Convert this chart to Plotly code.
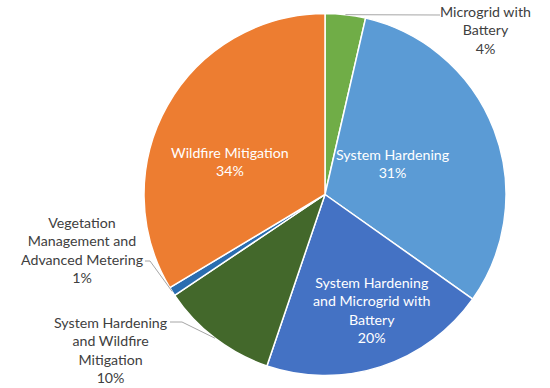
import math
import plotly.graph_objects as go

W, H = 550, 388

labels = ["Microgrid with Battery", "System Hardening",
          "System Hardening and Microgrid with Battery",
          "System Hardening and Wildfire Mitigation",
          "Vegetation Management and Advanced Metering",
          "Wildfire Mitigation"]
values = [3.6, 31.2, 20.4, 10.4, 0.8, 33.6]
colors = ["#70ad47", "#5b9bd5", "#4472c4", "#43682b", "#2a6db0", "#ed7d31"]
label_text = ["Microgrid with<br>Battery", "System Hardening",
              "System Hardening<br>and Microgrid with<br>Battery",
              "System Hardening<br>and Wildfire<br>Mitigation",
              "Vegetation<br>Management and<br>Advanced Metering",
              "Wildfire Mitigation"]
# label anchor positions (pixels) and whether inside
label_pos = [(485, 30), (393, 163), (371, 310), (111, 350), (82, 250), (230, 161)]
inside = [False, True, True, False, False, True]
# leader line elbows (pixels) for outside labels
elbow = {0: [(440, 15)], 3: [(170, 322), (182, 322)], 4: [(145, 261), (150, 261)]}

cx, cy, R = 325, 194.5, 181
def px(x, y):
    return x / W, 1 - y / H

fig = go.Figure(go.Pie(
    labels=labels, values=values, sort=False, direction="clockwise", rotation=0,
    marker=dict(colors=colors, line=dict(color="white", width=1.5)),
    textinfo="none", hoverinfo="label+percent", showlegend=False,
    domain=dict(x=[(cx - R) / W, (cx + R) / W], y=[1 - (cy + R) / H, 1 - (cy - R) / H]),
))

total = sum(values)
cum = 0
annotations = []
shapes = []
for i, v in enumerate(values):
    pct = round(100 * v / total)
    mid = (cum + v / 2) / total * 2 * math.pi
    cum += v
    x, y = label_pos[i]
    ax, ay = px(x, y)
    annotations.append(dict(
        x=ax, y=ay, xref="paper", yref="paper", showarrow=False,
        xanchor="center", yanchor="middle",
        text=f"{label_text[i]}<br>{pct}%", align="center",
        font=dict(family="Lato", size=14.2, color="white" if inside[i] else "#404040"),
    ))
    if not inside[i]:
        ex = cx + R * math.sin(mid)
        ey = cy - R * math.cos(mid)
        pts = elbow[i] + [(ex, ey)]
        path = "M " + " L ".join(f"{px(a, b)[0]},{px(a, b)[1]}" for a, b in pts)
        shapes.append(dict(type="path", path=path, xref="paper", yref="paper",
                           line=dict(color="#a6a6a6", width=1)))

fig.update_layout(
    width=W, height=H, margin=dict(l=0, r=0, t=0, b=0),
    paper_bgcolor="white", plot_bgcolor="white",
    annotations=annotations, shapes=shapes,
)
fig.write_html("out.html")
